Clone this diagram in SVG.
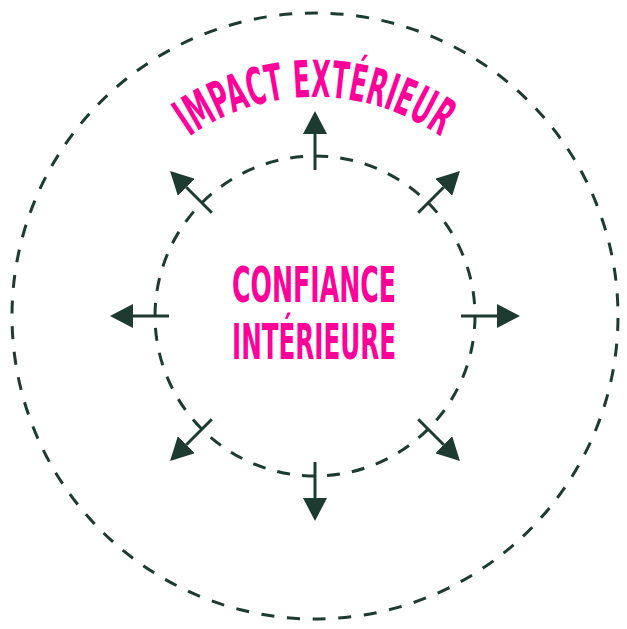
<svg xmlns="http://www.w3.org/2000/svg" width="627" height="629" viewBox="0 0 627 629">
  <style>
    .ring { fill: none; stroke: #1e3b31; stroke-width: 3; }
    .outer { stroke-dasharray: 13 12.73; stroke-dashoffset: -2; }
    .inner { stroke-dasharray: 13 12.13; }
    .arrow { stroke: #1e3b31; stroke-width: 3; fill: none; marker-end: url(#head); }
    .label { fill: #ff0099; font-family: "DejaVu Sans Condensed", "DejaVu Sans", sans-serif; font-weight: bold; }
  </style>
  <defs>
    <marker id="head" markerUnits="userSpaceOnUse" markerWidth="24" markerHeight="24" refX="0" refY="12" orient="auto" viewBox="0 0 24 24">
      <path d="M0,0 L23,12 L0,24 Z" fill="#1e3b31"/>
    </marker>
    <path id="arcPath" d="M 96,316 A 219 219 0 0 1 534,316"/>
  </defs>
  <rect width="627" height="629" fill="#ffffff"/>

  <g id="outer-circle">
    <circle class="ring outer" cx="315" cy="316" r="303"/>
    <text class="label" font-size="51"><textPath href="#arcPath" startOffset="50%" text-anchor="middle" textLength="268" lengthAdjust="spacingAndGlyphs">IMPACT EXTÉRIEUR</textPath></text>
  </g>

  <g id="inner-circle">
    <circle class="ring inner" cx="315" cy="316" r="160"/>
    <text class="label" font-size="49" x="314" y="302" text-anchor="middle" textLength="164" lengthAdjust="spacingAndGlyphs">CONFIANCE</text>
    <text class="label" font-size="49" x="314" y="359" text-anchor="middle" textLength="164" lengthAdjust="spacingAndGlyphs">INTÉRIEURE</text>
  </g>

  <g id="connectors">
    <line class="arrow" x1="315" y1="170" x2="315" y2="134"/>
    <line class="arrow" x1="418.2" y1="212.8" x2="443.7" y2="187.3"/>
    <line class="arrow" x1="461" y1="316" x2="497" y2="316"/>
    <line class="arrow" x1="418.2" y1="419.2" x2="443.7" y2="444.7"/>
    <line class="arrow" x1="315" y1="462" x2="315" y2="498"/>
    <line class="arrow" x1="211.8" y1="419.2" x2="186.3" y2="444.7"/>
    <line class="arrow" x1="169" y1="316" x2="133" y2="316"/>
    <line class="arrow" x1="211.8" y1="212.8" x2="186.3" y2="187.3"/>
  </g>
</svg>
